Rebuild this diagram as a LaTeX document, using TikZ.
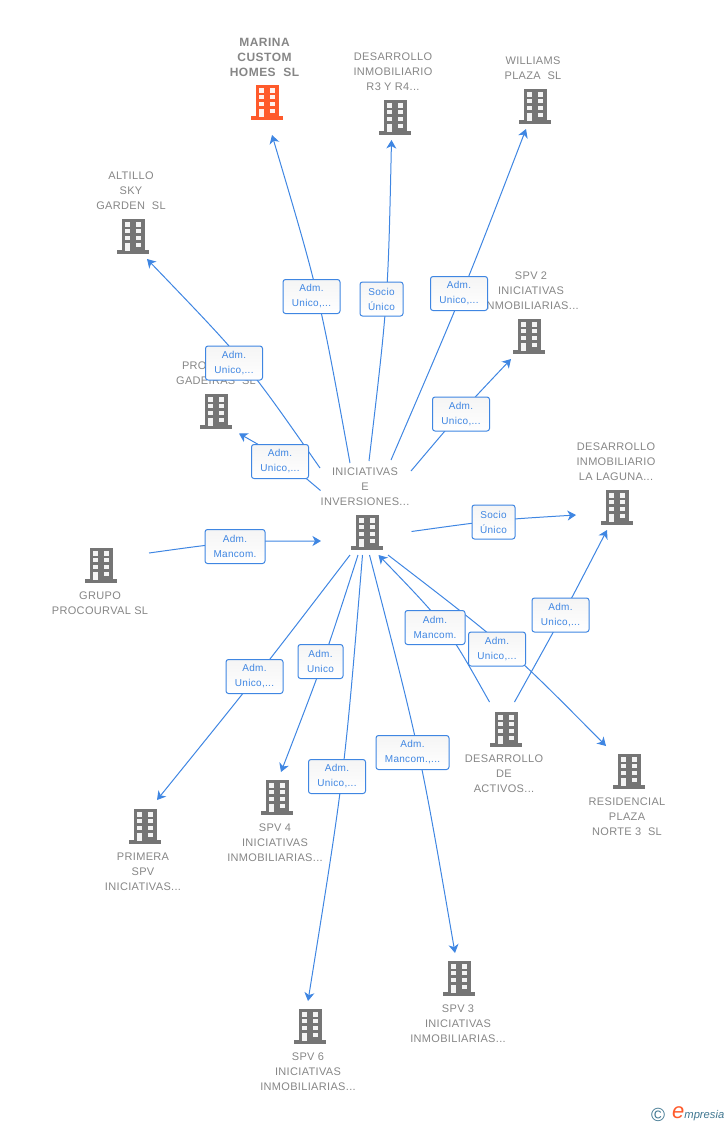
\documentclass[tikz,border=0pt]{standalone}
\usepackage{fontspec}
\setmainfont{Liberation Sans}
\usetikzlibrary{arrows.meta,backgrounds}
\definecolor{cgray}{HTML}{868686}
\definecolor{cicon}{HTML}{757575}
\definecolor{corange}{HTML}{FF5A2B}
\definecolor{cblue}{HTML}{3F86E2}
\definecolor{cteal}{HTML}{3F7690}
\newcommand{\admw}{Adm.\hspace{3pt}}
\tikzset{
  x=1pt,y=-1pt,
  caption/.style={align=center,text=cgray,yshift=-1pt,font=\fontsize{11}{15}\selectfont\addfontfeatures{LetterSpace=3},inner sep=0pt},
  lab/.style={draw=cblue,line width=1pt,rounded corners=2.5pt,top color=black!4,bottom color=white,
    text=cblue,align=center,font=\fontsize{10}{15}\selectfont\addfontfeatures{LetterSpace=3},inner sep=0pt,minimum height=34pt},
  labw/.style={lab,minimum width=57pt},
  conn/.style={draw=cblue,line width=1pt},
  arr/.style={conn,-{Stealth[length=8.5pt,width=10pt,inset=2.5pt]}},
  pics/bldg/.style={code={
    \fill[#1] (-11.5,-17) rectangle (11.5,15);
    \fill[#1] (-16,14) rectangle (16,17.5);
    \foreach \yy in {-14,-7.5,-0.5}{
      \fill[white,opacity=.92] (-7.7,\yy) rectangle ++(5,4.6);
      \fill[white,opacity=.92] (2.5,\yy) rectangle ++(5,4.6);
    }
    \fill[white,opacity=.92] (-7.7,6.5) rectangle (-2.7,14.5);
    \fill[white,opacity=.92] (2.5,6.5) rectangle ++(5,4.6);
  }}
}
\begin{document}
\begin{tikzpicture}
\useasboundingbox (0,0) rectangle (728,1125);
% captions
\node[caption,font=\bfseries\fontsize{12}{15}\selectfont\addfontfeatures{LetterSpace=4}] (tm) at (264.5,56) {MARINA\\CUSTOM\\HOMES\ \ SL};
\node[caption] (tr3) at (393,71) {DESARROLLO\\INMOBILIARIO\\R3 Y R4...};
\node[caption] (tw) at (533,67.5) {WILLIAMS\\PLAZA\ \ SL};
\node[caption] (ta) at (131,190) {ALTILLO\\SKY\\GARDEN\ \ SL};
\node[caption] (tp) at (216,372.5) {\makebox[68pt][l]{PRO}\\GADEIRAS\ \ SL};
\node[caption] (ts2) at (531,290) {SPV 2\\INICIATIVAS\\INMOBILIARIAS...};
\node[caption] (tl) at (616,461) {DESARROLLO\\INMOBILIARIO\\LA LAGUNA...};
\node[caption] (ti) at (365,486) {INICIATIVAS\\E\\INVERSIONES...};
\node[caption] (tg) at (100,602.5) {GRUPO\\PROCOURVAL SL};
\node[caption] (tpr) at (143,871) {PRIMERA\\SPV\\INICIATIVAS...};
\node[caption] (ts4) at (275,842) {SPV 4\\INICIATIVAS\\INMOBILIARIAS...};
\node[caption] (td) at (504,773) {DESARROLLO\\DE\\ACTIVOS...};
\node[caption] (tre) at (627,816) {RESIDENCIAL\\PLAZA\\NORTE 3\ \ SL};
\node[caption] (ts6) at (308,1071) {SPV 6\\INICIATIVAS\\INMOBILIARIAS...};
\node[caption] (ts3) at (458,1023) {SPV 3\\INICIATIVAS\\INMOBILIARIAS...};
% buildings
\pic (bm) at (267,102) {bldg=corange};
\pic (br3) at (395,117) {bldg=cicon};
\pic (bw) at (535,106) {bldg=cicon};
\pic (ba) at (133,236) {bldg=cicon};
\pic (bp) at (216,411) {bldg=cicon};
\pic (bs2) at (529,336) {bldg=cicon};
\pic (bl) at (617,507) {bldg=cicon};
\pic (bi) at (367,532) {bldg=cicon};
\pic (bg) at (101,565) {bldg=cicon};
\pic (bpr) at (145,826) {bldg=cicon};
\pic (bs4) at (277,797) {bldg=cicon};
\pic (bd) at (506,729) {bldg=cicon};
\pic (bre) at (629,771) {bldg=cicon};
\pic (bs6) at (310,1026) {bldg=cicon};
\pic (bs3) at (459,978) {bldg=cicon};
% labels
\node[labw] (l1) at (311.5,296.5) {\admw\\Unico,...};
\node[lab,minimum width=43pt] (l2) at (381.5,299) {Socio\\Único};
\node[labw] (l3) at (459,293.5) {\admw\\Unico,...};
\node[labw] (l4) at (461,414) {\admw\\Unico,...};
\node[labw] (l5) at (234,363) {\admw\\Unico,...};
\node[labw] (l6) at (280,461.5) {\admw\\Unico,...};
\node[lab,minimum width=60pt] (l7) at (235,546.5) {\admw\\Mancom.};
\node[lab,minimum width=43pt] (l8) at (493.5,522) {Socio\\Único};
\node[labw] (l9) at (560.5,615) {\admw\\Unico,...};
\node[lab,minimum width=60pt] (l10) at (435,627.5) {\admw\\Mancom.};
\node[labw] (l11) at (497,649) {\admw\\Unico,...};
\node[labw] (l12) at (254.5,676.5) {\admw\\Unico,...};
\node[lab,minimum width=45pt] (l13) at (320.5,661.5) {Adm.\hspace{8pt}\\Unico};
\node[labw] (l14) at (337,776.5) {\admw\\Unico,...};
\node[lab,minimum width=73pt] (l15) at (412.5,752.5) {\admw\\Mancom.,...};
% connector ends
\coordinate (s1) at (350,463); \coordinate (c1) at (319,293); \coordinate (e1) at (272,135);
\coordinate (s2) at (369,461); \coordinate (c2) at (388,300); \coordinate (e2) at (391.5,140);
\coordinate (s3) at (391,460); \coordinate (c3) at (463.5,291.5); \coordinate (e3) at (526,129);
\coordinate (s4) at (411,471); \coordinate (c4) at (460,413); \coordinate (e4) at (511,359);
\coordinate (s5) at (320,468); \coordinate (c5) at (246.5,362.5); \coordinate (e5) at (147,259);
\coordinate (s6) at (320.5,490.5); \coordinate (c6) at (282,458); \coordinate (e6) at (239,433.5);
\coordinate (s7) at (149,553); \coordinate (c7) at (235,541); \coordinate (e7) at (321,541);
\coordinate (s8) at (411.5,531.5); \coordinate (c8) at (494,520); \coordinate (e8) at (576,515);
\coordinate (s9) at (514.5,702); \coordinate (c9) at (563.5,614); \coordinate (e9) at (607,530);
\coordinate (s10) at (489.5,702); \coordinate (c10) at (446.5,625.5); \coordinate (e10) at (378.5,555);
\coordinate (s11) at (388,555); \coordinate (c11) at (509,648); \coordinate (e11) at (606,746);
\coordinate (s12) at (350,555); \coordinate (c12) at (258.5,674.5); \coordinate (e12) at (157,800);
\coordinate (s13) at (358,555); \coordinate (c13) at (324,660.5); \coordinate (e13) at (281,772);
\coordinate (s14) at (362.5,555); \coordinate (c14) at (344.5,774); \coordinate (e14) at (308,1001);
\coordinate (s15) at (369.5,555); \coordinate (c15) at (420,750); \coordinate (e15) at (455,953);
\begin{scope}[on background layer]
\foreach \i in {1,2,3,4,5,6,7,8,9,10,11,12,13,14,15}{
  \draw[arr] (s\i) .. controls (c\i) .. (e\i);
}
\end{scope}
% logo
\node[inner sep=0pt,text=cteal,font=\fontsize{19}{19}\selectfont] (cp) at (658,1114.5) {©};
\node[inner sep=0pt,anchor=base west,font=\itshape\fontsize{11.2}{13}\selectfont,text=cteal] (lg) at (672,1118.5)
  {{\color{corange}\fontsize{22}{22}\selectfont e}mpresia};
\end{tikzpicture}
\end{document}
